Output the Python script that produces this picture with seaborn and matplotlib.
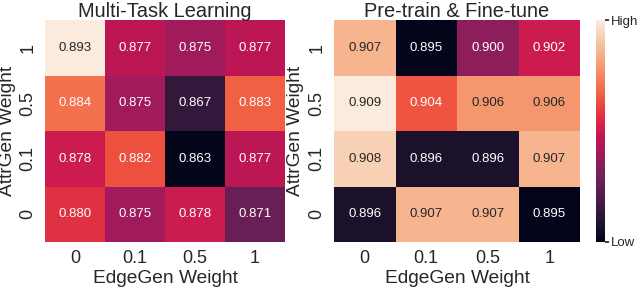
import numpy as np
import pandas as pd
import matplotlib
matplotlib.use("Agg")
import matplotlib.pyplot as plt
import seaborn as sns

# axis categories (rows listed top to bottom)
edge_weights = ["0", "0.1", "0.5", "1"]
attr_weights = ["1", "0.5", "0.1", "0"]

# Multi-Task Learning scores
mtl_scores = [
    [0.893, 0.877, 0.875, 0.877],
    [0.884, 0.875, 0.867, 0.883],
    [0.878, 0.882, 0.863, 0.877],
    [0.880, 0.875, 0.878, 0.871],
]

# Pre-train & Fine-tune scores
ptf_scores = [
    [0.907, 0.895, 0.900, 0.902],
    [0.909, 0.904, 0.906, 0.906],
    [0.908, 0.896, 0.896, 0.907],
    [0.896, 0.907, 0.907, 0.895],
]

sns.set_theme(style="white")
plt.rcParams["font.family"] = ["Liberation Sans", "DejaVu Sans"]

fig = plt.figure(figsize=(6.4, 2.87), dpi=100)
W, H = 640, 287
ax1 = fig.add_axes([45 / W, 1 - 242 / H, 240 / W, 222 / H])
ax2 = fig.add_axes([334 / W, 1 - 242 / H, 246 / W, 222 / H])
cax = fig.add_axes([596 / W, 1 - 242 / H, 9 / W, 222 / H])

panels = [(ax1, mtl_scores, "Multi-Task Learning"),
          (ax2, ptf_scores, "Pre-train & Fine-tune")]

for ax, scores, title in panels:
    df = pd.DataFrame(scores, index=attr_weights, columns=edge_weights)
    is_last = ax is ax2
    sns.heatmap(df, ax=ax, cmap="rocket", annot=True, fmt=".3f",
                annot_kws={"fontsize": 9.5},
                cbar=is_last, cbar_ax=cax if is_last else None)
    ax.set_title(title, fontsize=14.4, pad=2)
    ax.set_xlabel("EdgeGen Weight", fontsize=13.8, labelpad=2)
    ax.set_ylabel("AttrGen Weight", fontsize=13.8, labelpad=3)
    ax.tick_params(axis="both", length=0, labelsize=13, pad=6)
    ax.set_yticklabels(attr_weights, rotation=90, va="center")
    ax.set_xticklabels(edge_weights, rotation=0)

vals = np.array(ptf_scores)
cb = ax2.collections[0].colorbar
cb.set_ticks([vals.min(), vals.max()])
cb.set_ticklabels(["Low", "High"])
cb.ax.tick_params(labelsize=9.5, length=3, pad=1)
cb.outline.set_visible(False)

fig.savefig("out.png", dpi=100)
